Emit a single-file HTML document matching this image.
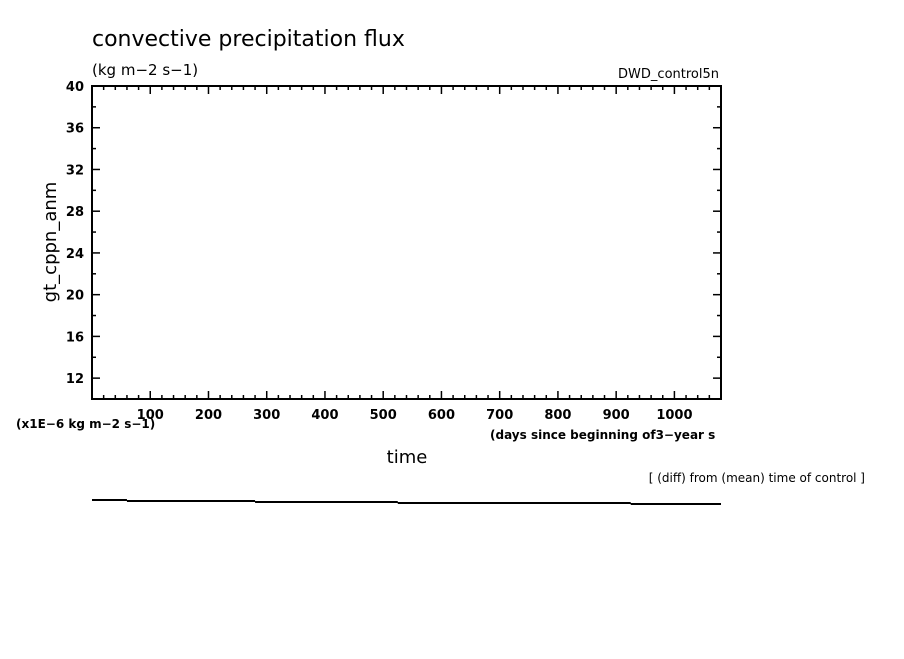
<!DOCTYPE html>
<html><head><meta charset="utf-8"><style>
body{margin:0;background:#fff;width:904px;height:654px;overflow:hidden}
svg text{font-family:"DejaVu Sans","Liberation Sans",sans-serif;fill:#000}
</style></head><body>
<svg id="c" width="904" height="654">
<text x="92" y="46" font-size="22">convective precipitation flux</text>
<text x="92" y="75" font-size="15">(kg m−2 s−1)</text>
<text x="719" y="78" font-size="13" text-anchor="end">DWD_control5n</text>
<text x="16" y="428" font-size="12" font-weight="bold">(x1E−6 kg m−2 s−1)</text>
<text x="490" y="439" font-size="12" font-weight="bold">(days since beginning of3−year s</text>
<text x="407" y="463" font-size="18" text-anchor="middle">time</text>
<text x="865" y="482" font-size="12" text-anchor="end">[ (diff) from (mean) time of control ]</text>
<text transform="translate(56,242) rotate(-90)" font-size="18" text-anchor="middle">gt_cppn_anm</text>
<rect x="92" y="86" width="629" height="313" fill="none" stroke="#000" stroke-width="2"/>
<g id="ax"></g>
</svg>
<script>
const yTicks=[12,16,20,24,28,32,36,40];
const xTicks=[100,200,300,400,500,600,700,800,900,1000];
const stepX=[0,60,280,525,925,1080];
const stepY=[500,501,502,503,504];
const L=92,R=721,T=86,B=399,xmin=0,xmax=1080,ymin=10,ymax=40;
const sx=v=>L+(v-xmin)/(xmax-xmin)*(R-L);
const sy=v=>B-(v-ymin)/(ymax-ymin)*(B-T);
const g=document.getElementById('ax');const NS='http://www.w3.org/2000/svg';
function ln(x1,y1,x2,y2,n,w){const e=document.createElementNS(NS,'line');
e.setAttribute('x1',x1);e.setAttribute('y1',y1);e.setAttribute('x2',x2);e.setAttribute('y2',y2);
e.setAttribute('stroke','#000');e.setAttribute('stroke-width',w||1.5);


g.appendChild(e);}
function tx(x,y,s,a,n){const e=document.createElementNS(NS,'text');
e.setAttribute('x',x);e.setAttribute('y',y);e.setAttribute('font-size','13');e.setAttribute('font-weight','bold');e.setAttribute('text-anchor',a);e.textContent=s;


g.appendChild(e);}
for(let v=ymin;v<=ymax;v+=2){const y=sy(v);const m=v%4===0?8:4;
ln(L,y,L+m,y,'y-tick');ln(R,y,R-m,y,'y-tick-right');}
yTicks.forEach(v=>tx(L-8,sy(v)+5,String(v),'end','y-tick-label'));
for(let v=20;v<xmax;v+=20){const x=sx(v);const m=v%100===0?8:4;
ln(x,B,x,B-m,'x-tick');ln(x,T,x,T+m,'x-tick-top');}
xTicks.forEach(v=>tx(sx(v),419,String(v),'middle','x-tick-label'));
for(let i=0;i<stepY.length;i++){
ln(sx(stepX[i]),stepY[i],sx(stepX[i+1]),stepY[i],'step-line-segment',2);
if(i>0)ln(sx(stepX[i]),stepY[i-1],sx(stepX[i]),stepY[i],'step-line-riser',2);}
</script>
</body></html>
